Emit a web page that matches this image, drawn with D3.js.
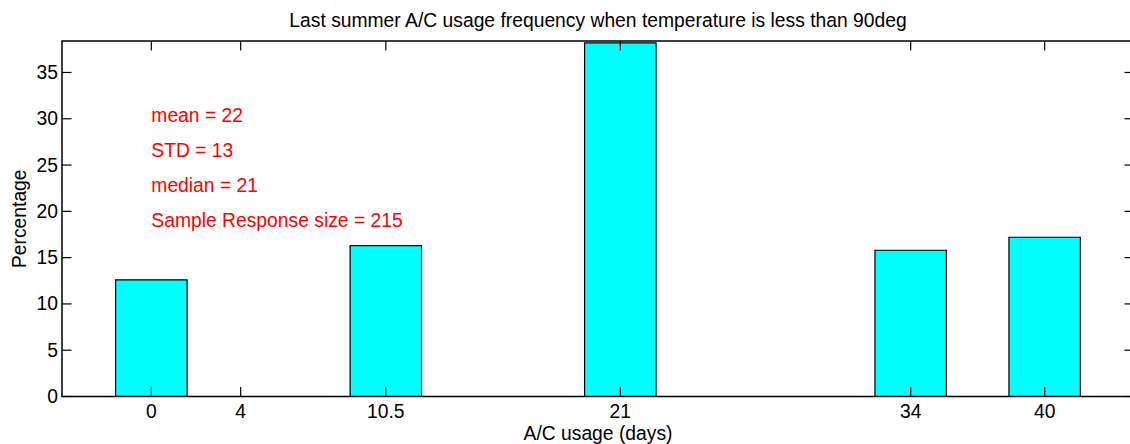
<!DOCTYPE html>
<html>
<head>
<meta charset="utf-8">
<script src="https://cdn.jsdelivr.net/npm/d3@7"></script>
<style>
  body { margin: 0; background: #fff; }
  svg { display: block; font-family: "Liberation Sans", Arial, sans-serif; }
</style>
</head>
<body>
<div id="chart"></div>
<script>
// Bar positions (days) and percentage of responses
const days = [0, 4, 10.5, 21, 34, 40];
const percentages = [12.6, 0, 16.3, 38.2, 15.8, 17.2];
const xTickLabels = ['0', '4', '10.5', '21', '34', '40'];
const yTicks = [0, 5, 10, 15, 20, 25, 30, 35];
const statsLines = ['mean = 22', 'STD = 13', 'median = 21', 'Sample Response size = 215'];

const width = 1130, height = 444;
const plot = { left: 62, right: 1134, top: 41, bottom: 396.5 };
const tickLen = 9.5;
const fontSize = 19.3;

const x = d3.scaleLinear().domain([-4, 44]).range([plot.left, plot.right]);
const y = d3.scaleLinear().domain([0, 38.4]).range([plot.bottom, plot.top]);

// bar width is 0.8 of the smallest spacing between bars, like MATLAB's bar()
const barWidth = 0.8 * 4;

const svg = d3.select('#chart')
  .append('svg')
  .attr('width', width)
  .attr('height', height);

// Bars, drawn as paths so a zero-height bar still shows its outline
svg.append('g')
  .selectAll('path')
  .data(days)
  .enter()
  .append('path')
  .attr('d', function (d, i) {
    const x0 = x(d - barWidth / 2), x1 = x(d + barWidth / 2);
    const y0 = y(0), y1 = y(percentages[i]);
    return 'M' + x0 + ',' + y0 + 'V' + y1 + 'H' + x1 + 'V' + y0 + 'Z';
  })
  .attr('fill', '#00ffff')
  .attr('stroke', '#000')
  .attr('stroke-width', 1.2);

// Axes box
const box = svg.append('g')
  .attr('stroke', '#000')
  .attr('stroke-width', 1.5)
  .attr('fill', 'none');

box.append('rect')
  .attr('x', plot.left)
  .attr('y', plot.top)
  .attr('width', plot.right - plot.left)
  .attr('height', plot.bottom - plot.top);

// X ticks on bottom and top, pointing inward
const xTickG = svg.append('g').attr('stroke', '#000').attr('stroke-width', 1.2);
days.forEach(function (d) {
  xTickG.append('line')
    .attr('x1', x(d)).attr('x2', x(d))
    .attr('y1', plot.bottom).attr('y2', plot.bottom - tickLen);
  xTickG.append('line')
    .attr('x1', x(d)).attr('x2', x(d))
    .attr('y1', plot.top).attr('y2', plot.top + tickLen);
});

// Y ticks on left and right
const yTickG = svg.append('g').attr('stroke', '#000').attr('stroke-width', 1.2);
yTicks.forEach(function (t) {
  yTickG.append('line')
    .attr('x1', plot.left).attr('x2', plot.left + tickLen)
    .attr('y1', y(t)).attr('y2', y(t));
  yTickG.append('line')
    .attr('x1', plot.right).attr('x2', plot.right - tickLen)
    .attr('y1', y(t)).attr('y2', y(t));
});

// Tick labels
svg.append('g')
  .selectAll('text')
  .data(days)
  .enter()
  .append('text')
  .attr('x', function (d) { return x(d); })
  .attr('y', plot.bottom + 21)
  .attr('text-anchor', 'middle')
  .style('font-size', fontSize + 'px')
  .text(function (d, i) { return xTickLabels[i]; });

svg.append('g')
  .selectAll('text')
  .data(yTicks)
  .enter()
  .append('text')
  .attr('x', plot.left - 4)
  .attr('y', function (d) { return y(d) + 6.5; })
  .attr('text-anchor', 'end')
  .style('font-size', fontSize + 'px')
  .text(function (d) { return d; });

// Title and axis labels
svg.append('text')
  .attr('x', (plot.left + plot.right) / 2)
  .attr('y', 27)
  .attr('text-anchor', 'middle')
  .style('font-size', fontSize + 'px')
  .text('Last summer A/C usage frequency when temperature is less than 90deg');

svg.append('text')
  .attr('x', (plot.left + plot.right) / 2)
  .attr('y', 440)
  .attr('text-anchor', 'middle')
  .style('font-size', fontSize + 'px')
  .text('A/C usage (days)');

svg.append('text')
  .attr('transform', 'translate(26,' + ((plot.top + plot.bottom) / 2) + ') rotate(-90)')
  .attr('text-anchor', 'middle')
  .style('font-size', fontSize + 'px')
  .text('Percentage');

// Summary statistics in red, placed in data units
svg.append('g')
  .selectAll('text')
  .data(statsLines)
  .enter()
  .append('text')
  .attr('x', x(0))
  .attr('y', function (d, i) { return y(29.7 - i * 3.8); })
  .attr('fill', '#ff0000')
  .style('font-size', fontSize + 'px')
  .text(function (d) { return d; });
</script>
</body>
</html>
